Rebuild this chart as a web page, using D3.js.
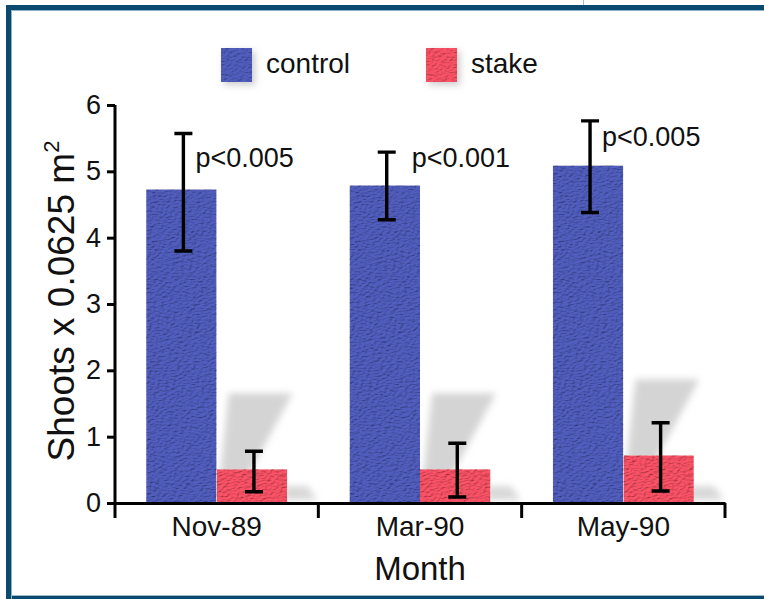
<!DOCTYPE html>
<html>
<head>
<meta charset="utf-8">
<script src="https://cdn.jsdelivr.net/npm/d3@7"></script>
<style>
  body { margin: 0; background: #fff; }
  text { font-family: "Liberation Sans", Arial, Helvetica, sans-serif; fill: #111; }
</style>
</head>
<body>
<div id="chart"></div>
<script>
// chart values
const categories = ["Nov-89", "Mar-90", "May-90"];
const seriesNames = ["control", "stake"];
const controlMean = [4.73, 4.79, 5.09];
const controlLow = [3.80, 4.27, 4.38];
const controlHigh = [5.57, 5.29, 5.76];
const stakeMean = [0.51, 0.51, 0.72];
const stakeLow = [0.17, 0.09, 0.18];
const stakeHigh = [0.78, 0.90, 1.21];
const pLabels = ["p<0.005", "p<0.001", "p<0.005"];
const pLabelY = [5.06, 5.06, 5.38];
const yTicks = [0, 1, 2, 3, 4, 5, 6];

const W = 764, H = 599;
const margin = {top: 105, right: 39, bottom: 96, left: 115};
const width = W - margin.left - margin.right,
      height = H - margin.top - margin.bottom;

const colors = {control: "#5360c2", stake: "#ff5468"};
// horizontal gap between error bar and its p label (px)
const pLabelGap = [12, 25, 12];

const svg = d3.select("#chart").append("svg")
    .attr("width", W)
    .attr("height", H);

// filters: crumpled texture + soft shadow
const defs = svg.append("defs");
const tex = defs.append("filter").attr("id", "tex")
    .attr("x", 0).attr("y", 0).attr("width", 1).attr("height", 1);
tex.append("feTurbulence").attr("type", "fractalNoise")
    .attr("baseFrequency", "0.25 0.8").attr("numOctaves", 3).attr("seed", 7).attr("result", "n");
const light = tex.append("feDiffuseLighting").attr("in", "n")
    .attr("lighting-color", "#fff").attr("surfaceScale", 2).attr("result", "l");
light.append("feDistantLight").attr("azimuth", 235).attr("elevation", 62);
tex.append("feBlend").attr("in", "SourceGraphic").attr("in2", "l").attr("mode", "multiply").attr("result", "b");
tex.append("feComposite").attr("in", "b").attr("in2", "SourceGraphic").attr("operator", "in");

const blur = defs.append("filter").attr("id", "blur")
    .attr("x", "-40%").attr("y", "-40%").attr("width", "180%").attr("height", "180%");
blur.append("feGaussianBlur").attr("stdDeviation", 3.5);

// frame
svg.append("rect").attr("x", 0).attr("y", 0).attr("width", W).attr("height", H).attr("fill", "#fff");
svg.append("line").attr("x1", 583.5).attr("x2", 583.5).attr("y1", 0).attr("y2", 5)
    .attr("stroke", "#a9bccb").attr("stroke-width", 1);
svg.append("rect").attr("x", 6).attr("y", 5).attr("width", W - 6).attr("height", 5).attr("fill", "#0b4a6f");
svg.append("rect").attr("x", 6).attr("y", 5).attr("width", 5).attr("height", H - 5).attr("fill", "#0b4a6f");
svg.append("rect").attr("x", 6).attr("y", 596).attr("width", W - 6).attr("height", 3).attr("fill", "#0b4a6f");
svg.append("path").attr("d", `M11.5,${H} V10.5 H${W}`).attr("fill", "none")
    .attr("stroke", "#8fb0c6").attr("stroke-width", 1);
svg.append("line").attr("x1", 11).attr("x2", W).attr("y1", 595.5).attr("y2", 595.5)
    .attr("stroke", "#9fb8c8").attr("stroke-width", 1);

const g = svg.append("g").attr("transform", `translate(${margin.left},${margin.top})`);

// scales
const x = d3.scaleBand().domain(categories).range([0, width]).padding(0);
const xSub = d3.scaleBand().domain(seriesNames)
    .range([x.bandwidth() * 0.153, x.bandwidth() * 0.847]);
const y = d3.scaleLinear().domain([0, 6]).range([height, 0]);

const rows = categories.map((c, i) => ({
  cat: c, i,
  control: {mean: controlMean[i], lo: controlLow[i], hi: controlHigh[i]},
  stake: {mean: stakeMean[i], lo: stakeLow[i], hi: stakeHigh[i]},
  p: pLabels[i], py: pLabelY[i]
}));

// grey shadows behind stake bars
const shadows = g.append("g").attr("filter", "url(#blur)").attr("fill", "#d4d4d4");
rows.forEach(d => {
  const x0 = x(d.cat) + xSub("stake");
  const yt = y(d.stake.mean);
  const top = yt - 76;
  shadows.append("path")
    .attr("d", `M${x0 + 12},${top} L${x0 + 76},${top} L${x0 + 24},${yt + 20} L${x0 + 2},${yt + 20} Z`);
  const x1 = x0 + xSub.bandwidth();
  shadows.append("path").attr("fill", "#d8d8d8")
    .attr("d", `M${x1 - 4},${y(0) - 17} L${x1 + 20},${y(0) - 17} L${x1 + 30},${y(0) - 3} L${x1 - 4},${y(0) - 3} Z`);
});

// bars
const groups = g.selectAll(".grp").data(rows).join("g")
    .attr("class", "grp")
    .attr("transform", d => `translate(${x(d.cat)},0)`);

groups.selectAll("rect")
  .data(d => seriesNames.map(s => ({s, v: d[s]})))
  .join("rect")
    .attr("x", d => xSub(d.s))
    .attr("y", d => y(d.v.mean))
    .attr("width", xSub.bandwidth())
    .attr("height", d => y(0) - y(d.v.mean))
    .attr("fill", d => colors[d.s])
    .attr("filter", "url(#tex)");

// error bars
const cap = 9;
const errX = s => xSub(s) + xSub.bandwidth() / 2 + 2;
groups.selectAll(".err")
  .data(d => seriesNames.map(s => ({s, v: d[s]})))
  .join("path")
    .attr("class", "err")
    .attr("fill", "none")
    .attr("stroke", "#000")
    .attr("stroke-width", 3.4)
    .attr("d", d => {
      const cx = errX(d.s);
      return `M${cx},${y(d.v.hi)} V${y(d.v.lo)}` +
        `M${cx - cap},${y(d.v.hi)} H${cx + cap}` +
        `M${cx - cap},${y(d.v.lo)} H${cx + cap}`;
    });

// p-value labels
groups.append("text")
    .attr("x", d => errX("control") + pLabelGap[d.i])
    .attr("y", d => y(d.py))
    .attr("font-size", 27)
    .text(d => d.p);

// y axis
const yAxis = g.append("g")
    .call(d3.axisLeft(y).tickValues(yTicks).tickFormat(d3.format("d"))
      .tickSize(8).tickPadding(6).tickSizeOuter(0));
yAxis.select(".domain").attr("d", `M0,${y(6)} V${y(0) + 15}`);
yAxis.selectAll("line, path").attr("stroke", "#000").attr("stroke-width", 3);
yAxis.selectAll("text").attr("font-size", 27).attr("fill", "#111")
    .attr("font-family", "Liberation Sans, Arial, sans-serif");

// x axis
const xAxis = g.append("g").attr("transform", `translate(0,${height})`)
    .call(d3.axisBottom(x).tickSize(0).tickPadding(13).tickSizeOuter(0));
xAxis.select(".domain").attr("stroke", "#000").attr("stroke-width", 3);
xAxis.selectAll("text").attr("font-size", 28).attr("fill", "#111")
    .attr("font-family", "Liberation Sans, Arial, sans-serif")
    .attr("dy", "0.71em");
xAxis.selectAll(".bound").data(categories).join("line")
    .attr("class", "bound")
    .attr("x1", d => x(d) + x.bandwidth())
    .attr("x2", d => x(d) + x.bandwidth())
    .attr("y1", 0).attr("y2", 15)
    .attr("stroke", "#000").attr("stroke-width", 3);

// axis titles
g.append("text")
    .attr("x", width / 2)
    .attr("y", height + 77)
    .attr("text-anchor", "middle")
    .attr("font-size", 33)
    .text("Month");

const yt = g.append("text")
    .attr("transform", `translate(${-41},${(y(0) + y(6)) / 2 - 3}) rotate(-90)`)
    .attr("text-anchor", "middle")
    .attr("font-size", 37);
yt.append("tspan").text("Shoots x 0.0625 m");
yt.append("tspan").attr("font-size", 22).attr("dy", -15).text("2");

// legend
const legend = svg.append("g");
const legendX = [221, 426];
seriesNames.forEach((s, i) => {
  const lg = legend.append("g").attr("transform", `translate(${legendX[i]},48)`);
  lg.append("rect").attr("x", 3).attr("y", 3).attr("width", 31).attr("height", 34)
    .attr("fill", "#cccccc").attr("filter", "url(#blur)");
  lg.append("rect").attr("width", 31).attr("height", 34)
    .attr("fill", colors[s]).attr("filter", "url(#tex)");
  lg.append("text").attr("x", 45).attr("y", 25).attr("font-size", 28).text(s);
});
</script>
</body>
</html>
